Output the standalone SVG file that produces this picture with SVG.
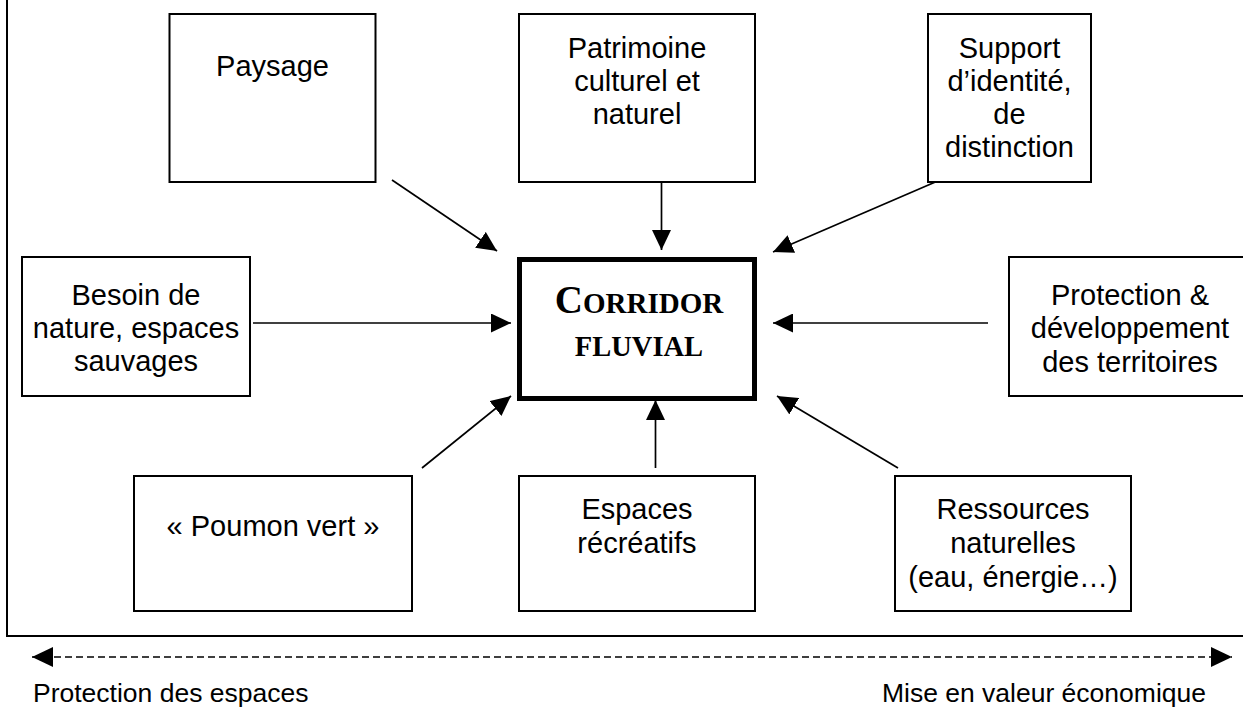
<svg xmlns="http://www.w3.org/2000/svg" width="1243" height="707" viewBox="0 0 1243 707">
<style>
.box{fill:#fff;stroke:#000;stroke-width:2}
.t{font-family:"Liberation Sans",Arial,sans-serif;font-size:29px;fill:#000;text-anchor:middle}
.c{stroke:#000;stroke-width:1.7;fill:none;marker-end:url(#ah)}
.cap{font-family:"Liberation Serif","Times New Roman",serif;font-weight:bold;fill:#000;text-anchor:middle}
.b{font-family:"Liberation Sans",Arial,sans-serif;font-size:26.5px;fill:#000}
</style>
<defs>
<marker id="ah" viewBox="0 0 20 19" refX="20" refY="9.5" markerWidth="20" markerHeight="19" markerUnits="userSpaceOnUse" orient="auto">
<path d="M0,0 L20,9.5 L0,19 Z" fill="#000"/>
</marker>
<marker id="ah2" viewBox="0 0 21 20" refX="21" refY="10" markerWidth="21" markerHeight="20" markerUnits="userSpaceOnUse" orient="auto-start-reverse">
<path d="M0,0 L21,10 L0,20 Z" fill="#000"/>
</marker>
</defs>
<rect width="1243" height="707" fill="#fff"/>
<g id="frame">
<path d="M7,0 V636 H1243" fill="none" stroke="#000" stroke-width="2"/>
</g>
<g id="connectors">
<line class="c" x1="392" y1="180" x2="497" y2="251"/>
<line class="c" x1="661.5" y1="180" x2="661.5" y2="250"/>
<line class="c" x1="940" y1="180" x2="773" y2="252"/>
<line class="c" x1="253" y1="323" x2="511" y2="323"/>
<line class="c" x1="988" y1="323" x2="773" y2="323"/>
<line class="c" x1="422" y1="468" x2="511" y2="396"/>
<line class="c" x1="655.5" y1="468" x2="655.5" y2="400"/>
<line class="c" x1="898" y1="468" x2="777" y2="396"/>
<line x1="32" y1="657" x2="1232" y2="657" stroke="#000" stroke-width="1.6" stroke-dasharray="7,4" marker-start="url(#ah2)" marker-end="url(#ah2)"/>
</g>
<g id="paysage">
<rect class="box" x="169.5" y="14" width="206" height="168"/>
<text class="t" x="272.5" y="76">Paysage</text>
</g>
<g id="patrimoine">
<rect class="box" x="519" y="14" width="236" height="168"/>
<text class="t" x="637" y="58">Patrimoine</text>
<text class="t" x="637" y="91">culturel et</text>
<text class="t" x="637" y="124">naturel</text>
</g>
<g id="support">
<rect class="box" x="928" y="14" width="163" height="168"/>
<text class="t" x="1009.5" y="58">Support</text>
<text class="t" x="1009.5" y="91">d’identité,</text>
<text class="t" x="1009.5" y="124">de</text>
<text class="t" x="1009.5" y="157">distinction</text>
</g>
<g id="besoin">
<rect class="box" x="22" y="257" width="228" height="139"/>
<text class="t" x="136" y="305">Besoin de</text>
<text class="t" x="136" y="338">nature, espaces</text>
<text class="t" x="136" y="371">sauvages</text>
</g>
<g id="corridor">
<rect x="519.5" y="259.5" width="235" height="139" fill="#fff" stroke="#000" stroke-width="5"/>
<text class="cap" x="639" y="313"><tspan font-size="39">C</tspan><tspan font-size="29">ORRIDOR</tspan></text>
<text class="cap" x="639" y="356" font-size="28.5">FLUVIAL</text>
</g>
<g id="protection">
<rect class="box" x="1009" y="257" width="243" height="139"/>
<text class="t" x="1130" y="305">Protection &amp;</text>
<text class="t" x="1130" y="338">développement</text>
<text class="t" x="1130" y="372">des territoires</text>
</g>
<g id="poumon">
<rect class="box" x="134" y="476" width="278" height="135"/>
<text class="t" x="273" y="536">« Poumon vert »</text>
</g>
<g id="espaces">
<rect class="box" x="519" y="476" width="236" height="135"/>
<text class="t" x="637" y="519">Espaces</text>
<text class="t" x="637" y="553">récréatifs</text>
</g>
<g id="ressources">
<rect class="box" x="895" y="476" width="236" height="135"/>
<text class="t" x="1013" y="519">Ressources</text>
<text class="t" x="1013" y="553">naturelles</text>
<text class="t" x="1013" y="587">(eau, énergie…)</text>
</g>
<g id="axis-labels">
<text class="b" x="33" y="702">Protection des espaces</text>
<text class="b" x="1206" y="702" text-anchor="end">Mise en valeur économique</text>
</g>
</svg>
